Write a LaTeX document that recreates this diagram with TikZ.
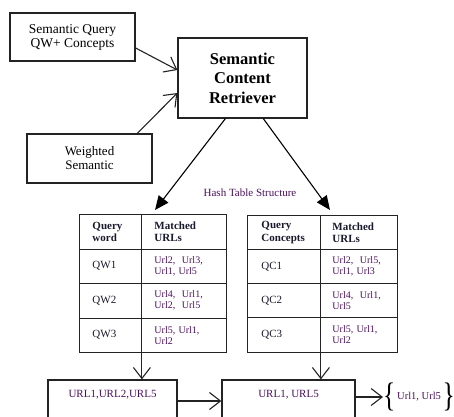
\documentclass[tikz,border=0pt]{standalone}
\usepackage{fontspec}
\usepackage{graphicx}
\setmainfont{Liberation Serif}
\usetikzlibrary{arrows.meta,calc}
\definecolor{urlc}{RGB}{75,15,95}
\definecolor{txtc}{RGB}{25,25,45}
\definecolor{linec}{RGB}{35,35,35}
\begin{document}
\begin{tikzpicture}[x=1pt,y=-1pt,
  box/.style={draw=linec, line width=1.3pt, align=center, inner sep=0pt, text=black},
  cell/.style={draw=linec, line width=0.9pt, anchor=north west, align=left, inner xsep=13pt, inner ysep=0pt, text=txtc},
  hdr/.style={font=\bfseries\fontsize{11}{12.3}\selectfont},
  lbl/.style={font=\fontsize{11}{12.3}\selectfont},
  urls/.style={font=\fontsize{10}{11}\selectfont, text=urlc},
  open/.style={draw=linec, line width=1.1pt, -{Straight Barb[length=11pt,width=17pt]}},
  filled/.style={draw=black, line width=1.1pt, -{Triangle[length=14pt,width=12pt]}}]
\useasboundingbox (0,0) rectangle (454,416);
\clip (0,0) rectangle (454,416);

% input boxes
\node[box, minimum width=125, minimum height=48, font=\fontsize{13.5}{14}\selectfont] (qw) at (72.5,37) {Semantic Query\\QW+ Concepts};
\node[box, minimum width=125, minimum height=49, font=\fontsize{13}{14}\selectfont] (ws) at (89.5,158.5) {Weighted\\Semantic};
\node[box, minimum width=129, minimum height=80, font=\bfseries\fontsize{16.5}{19.5}\selectfont] (scr) at (242.5,78) {Semantic\\Content\\Retriever};

\node[font=\fontsize{11}{12}\selectfont, text=urlc, inner sep=0pt] (hash) at (250,193) {Hash Table Structure};

% left table
\node[cell, hdr, minimum width=62, text width=36, minimum height=34.5] (L11) at (79,214) {Query\\word};
\node[cell, hdr, minimum width=85, text width=59, minimum height=34.5] (L12) at (141,214) {Matched\\URLs};
\node[cell, lbl, minimum width=62, text width=36, minimum height=34.5] (L21) at (79,248.5) {QW1};
\node[cell, urls, minimum width=85, text width=59, minimum height=34.5] (L22) at (141,248.5) {Url2,\ \ Url3,\\Url1, Url5};
\node[cell, lbl, minimum width=62, text width=36, minimum height=34.5] (L31) at (79,283) {QW2};
\node[cell, urls, minimum width=85, text width=59, minimum height=34.5] (L32) at (141,283) {Url4,\ \ Url1,\\Url2,\ \ Url5};
\node[cell, lbl, minimum width=62, text width=36, minimum height=34.5] (L41) at (79,317.5) {QW3};
\node[cell, urls, minimum width=85, text width=59, minimum height=34.5] (L42) at (141,317.5) {Url5, Url1,\\Url2};

% right table
\node[cell, hdr, inner xsep=14pt, minimum width=73, text width=45, minimum height=34] (R11) at (247,215) {Query\\Concepts};
\node[cell, hdr, inner xsep=12pt, minimum width=77, text width=53, minimum height=34] (R12) at (320,215) {Matched\\URLs};
\node[cell, lbl, inner xsep=14pt, minimum width=73, text width=45, minimum height=34] (R21) at (247,249) {QC1};
\node[cell, urls, inner xsep=12pt, minimum width=77, text width=53, minimum height=34] (R22) at (320,249) {Url2,\ \ Url5,\\Url1, Url3};
\node[cell, lbl, inner xsep=14pt, minimum width=73, text width=45, minimum height=34] (R31) at (247,283) {QC2};
\node[cell, urls, inner xsep=12pt, minimum width=77, text width=53, minimum height=34] (R32) at (320,283) {Url4,\ \ Url1,\\Url5};
\node[cell, lbl, inner xsep=14pt, minimum width=73, text width=45, minimum height=35] (R41) at (247,317) {QC3};
\node[cell, urls, inner xsep=12pt, minimum width=77, text width=53, minimum height=35] (R42) at (320,317) {Url5, Url1,\\Url2};

% bottom boxes
\node[box, minimum width=129, minimum height=42] (bl) at (112.5,401) {};
\node[font=\fontsize{11}{12}\selectfont, text=urlc, inner sep=0pt] (blt) at (112.5,395) {URL1,URL2,URL5};
\node[box, minimum width=133, minimum height=42] (rb) at (288.5,401) {};
\node[font=\fontsize{11}{12}\selectfont, text=urlc, inner sep=0pt] (rbt) at (288.5,395) {URL1, URL5};
\node[anchor=west, inner sep=0pt, font=\fontsize{10.5}{12}\selectfont] (res) at (383,397) {\raisebox{-0.3\height}{\scalebox{0.75}[1]{\fontsize{34}{34}\selectfont\{}}\,\textcolor{urlc}{Url1, Url5}\,\raisebox{-0.3\height}{\scalebox{0.75}[1]{\fontsize{34}{34}\selectfont\}}}};

% connectors
\draw[open] ($(qw.east)+(0,11)$) -- ($(scr.west)+(0,-8)$);
\draw[open] ($(ws.north west)+(111,0)$) -- ($(scr.west)+(0,15)$);
\draw[filled] ($(scr.south west)+(48,0)$) -- ($(L12.north west)+(14,-4)$);
\draw[filled] ($(scr.south west)+(86,0)$) -- ($(R12.north west)+(10,-5)$);
\draw[open] ($(L41.north east)+(0,3.5)$) -- (L41.east |- bl.north);
\draw[open] ($(R41.north east)+(0,5)$) -- (R41.east |- rb.north);
\draw[open] (bl.east) -- (rb.west);
\draw[open] ($(rb.east)+(0,-4)$) -- (res.west);
\end{tikzpicture}
\end{document}
